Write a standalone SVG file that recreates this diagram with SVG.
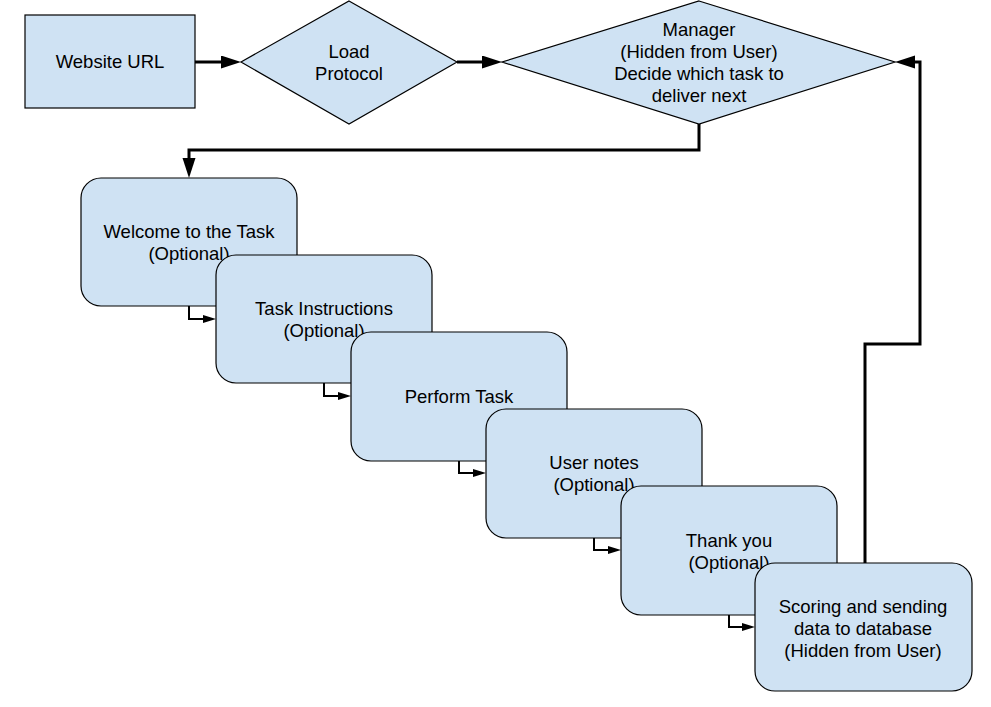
<svg xmlns="http://www.w3.org/2000/svg" width="991" height="707" viewBox="0 0 991 707">
<style>
.s{fill:#cfe2f3;stroke:#000;stroke-width:1.2}
.t{font-family:"Liberation Sans",Arial,sans-serif;font-size:18.5px;fill:#000;text-anchor:middle}
.c{fill:none;stroke:#000;stroke-width:3}
.cs{fill:none;stroke:#000;stroke-width:2}
</style>
<defs>
<marker id="a" markerUnits="userSpaceOnUse" markerWidth="20" markerHeight="14" refX="12" refY="6.5" orient="auto"><path d="M0,0 L20,6.5 L0,13 z" fill="#000"/></marker>
<marker id="b" markerUnits="userSpaceOnUse" markerWidth="14" markerHeight="9" refX="7" refY="4" orient="auto"><path d="M0,0 L13,4 L0,8 z" fill="#000"/></marker>
</defs>
<g id="connectors">
<path class="c" d="M195,62 H233" marker-end="url(#a)"/>
<path class="c" d="M457,62 H494" marker-end="url(#a)"/>
<path class="c" d="M699,124 V150 H189 V170" marker-end="url(#a)"/>
<path class="c" d="M865,563 V344 H920 V62 H903" marker-end="url(#a)"/>
<path class="cs" d="M189,306 V319 H210" marker-end="url(#b)"/>
<path class="cs" d="M324,383 V396 H345" marker-end="url(#b)"/>
<path class="cs" d="M459,461 V473 H480" marker-end="url(#b)"/>
<path class="cs" d="M594,538 V550 H615" marker-end="url(#b)"/>
<path class="cs" d="M729,615 V627 H749" marker-end="url(#b)"/>
</g>
<g id="website-url">
<rect class="s" x="25" y="15" width="170" height="93"/>
<text class="t" x="110" y="68">Website URL</text>
</g>
<g id="load-protocol">
<polygon class="s" points="349,1 457,62 349,124 241,62"/>
<text class="t" x="349" y="58">Load</text>
<text class="t" x="349" y="80">Protocol</text>
</g>
<g id="manager">
<polygon class="s" points="699,1 895,62 699,124 502,62"/>
<text class="t" x="699" y="36">Manager</text>
<text class="t" x="699" y="58">(Hidden from User)</text>
<text class="t" x="699" y="80">Decide which task to</text>
<text class="t" x="699" y="102">deliver next</text>
</g>
<g id="welcome">
<rect class="s" x="81" y="178" width="216" height="128" rx="20"/>
<text class="t" x="189" y="238">Welcome to the Task</text>
<text class="t" x="189" y="260">(Optional)</text>
</g>
<g id="task-instructions">
<rect class="s" x="216" y="255" width="216" height="128" rx="20"/>
<text class="t" x="324" y="315">Task Instructions</text>
<text class="t" x="324" y="337">(Optional)</text>
</g>
<g id="perform-task">
<rect class="s" x="351" y="332" width="216" height="129" rx="20"/>
<text class="t" x="459" y="403">Perform Task</text>
</g>
<g id="user-notes">
<rect class="s" x="486" y="409" width="216" height="129" rx="20"/>
<text class="t" x="594" y="469">User notes</text>
<text class="t" x="594" y="491">(Optional)</text>
</g>
<g id="thank-you">
<rect class="s" x="621" y="486" width="216" height="129" rx="20"/>
<text class="t" x="729" y="547">Thank you</text>
<text class="t" x="729" y="569">(Optional)</text>
</g>
<g id="scoring">
<rect class="s" x="755" y="563" width="217" height="128" rx="20"/>
<text class="t" x="863" y="613">Scoring and sending</text>
<text class="t" x="863" y="635">data to database</text>
<text class="t" x="863" y="657">(Hidden from User)</text>
</g>
</svg>
